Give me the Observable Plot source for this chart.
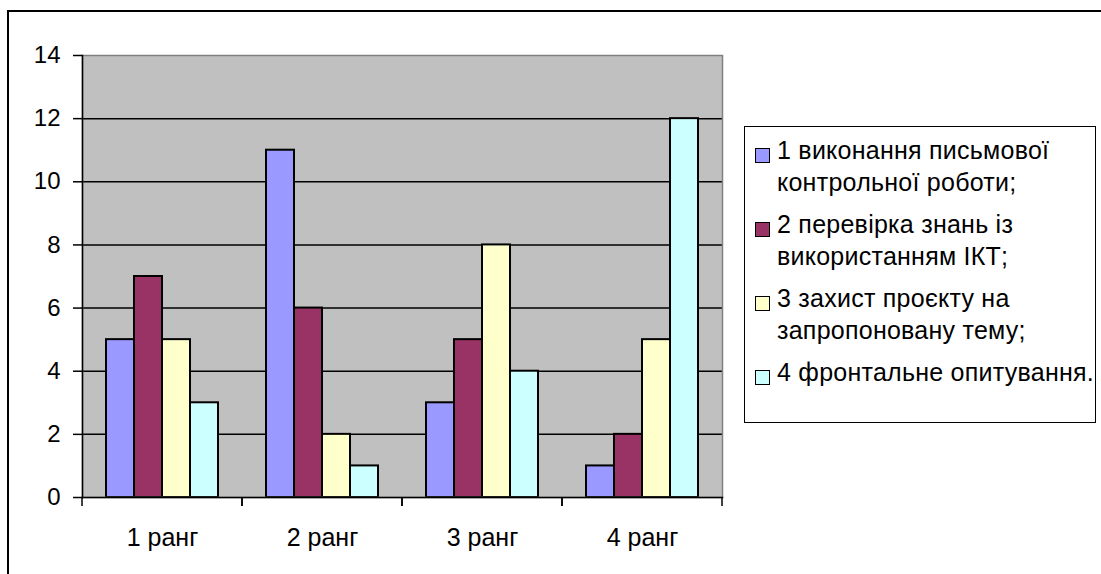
<!DOCTYPE html>
<html>
<head>
<meta charset="utf-8">
<script src="https://cdn.jsdelivr.net/npm/d3@7"></script>
<script src="https://cdn.jsdelivr.net/npm/@observablehq/plot@0.6"></script>
<style>
  html, body { margin: 0; padding: 0; background: #fff; overflow: hidden; }
  body { width: 1101px; height: 574px; position: relative; font-family: "Liberation Sans", Arial, sans-serif; }
  #outer { position: absolute; left: 7px; top: 10px; width: 2000px; height: 2000px; border-top: 2px solid #000; border-left: 2px solid #000; }
  #chart { position: absolute; left: 0; top: 0; }
  #legend { position: absolute; left: 744px; top: 126px; width: 352px; height: 297px; border: 1.5px solid #000; background: #fff; box-sizing: border-box; }
  .item { position: absolute; left: 32px; font-size: 25px; letter-spacing: 0.25px; line-height: 32px; color: #000; white-space: nowrap; }
  .sw { position: absolute; left: -22px; width: 15px; height: 15px; box-sizing: border-box; border: 1.5px solid #000; }
</style>
</head>
<body>
<div id="outer"></div>
<div id="chart"></div>
<div id="legend"></div>
<script>
const groups = ["1 ранг", "2 ранг", "3 ранг", "4 ранг"];
const seriesNames = [
  "1 виконання письмової контрольної роботи;",
  "2 перевірка знань із використанням ІКТ;",
  "3 захист проєкту на запропоновану тему;",
  "4 фронтальне опитування."
];
const legendLines = [
  ["1 виконання письмової", "контрольної роботи;"],
  ["2 перевірка знань із", "використанням ІКТ;"],
  ["3 захист проєкту на", "запропоновану тему;"],
  ["4 фронтальне опитування."]
];
const series1 = [5, 11, 3, 1];
const series2 = [7, 6, 5, 2];
const series3 = [5, 2, 8, 5];
const series4 = [3, 1, 4, 12];
const colors = ["#9999ff", "#993366", "#ffffcc", "#ccffff"];
const yTicks = [0, 2, 4, 6, 8, 10, 12, 14];
const gridValues = [2, 4, 6, 8, 10, 12];

const seriesValues = [series1, series2, series3, series4];
const data = [];
seriesNames.forEach((s, si) => {
  groups.forEach((g, gi) => data.push({group: g, series: s, value: seriesValues[si][gi]}));
});

function groupEdgeTicks(index, scales, values, dimensions) {
  const {width, height, marginLeft, marginRight, marginBottom} = dimensions;
  const y0 = height - marginBottom;
  const g = d3.create("svg:g").attr("stroke", "#000").attr("stroke-width", 1.5);
  for (const x of [marginLeft, width - marginRight]) {
    g.append("line").attr("x1", x).attr("x2", x).attr("y1", y0).attr("y2", y0 + 9);
  }
  return g.node();
}

const chart = Plot.plot({
  width: 1101,
  height: 574,
  marginLeft: 82,
  marginRight: 379,
  marginTop: 55,
  marginBottom: 77,
  style: {fontSize: "24px", fontFamily: "'Liberation Sans', Arial, sans-serif", color: "#000", background: "transparent", overflow: "visible"},
  fx: {domain: groups, padding: 0, label: null},
  x: {domain: seriesNames, paddingInner: 0, paddingOuter: 0.76, axis: null},
  y: {domain: [0, 14], label: null},
  color: {domain: seriesNames, range: colors},
  marks: [
    Plot.frame({fill: "#c0c0c0", facet: "super"}),
    Plot.ruleY(gridValues, {stroke: "#000", strokeWidth: 1.5}),
    Plot.barY(data, {fx: "group", x: "series", y: "value", fill: "series", stroke: "#000", strokeWidth: 2}),
    Plot.frame({stroke: "#808080", strokeWidth: 1.5, facet: "super"}),
    Plot.frame({anchor: "left", stroke: "#000", strokeWidth: 1.5, facet: "super"}),
    Plot.frame({anchor: "bottom", stroke: "#000", strokeWidth: 1.5, facet: "super"}),
    Plot.axisY({ticks: yTicks, tickSize: 9, tickPadding: 13, strokeWidth: 1.5, label: null}),
    Plot.axisFx({anchor: "bottom", tickSize: 0, tickPadding: 31, fontSize: 25, label: null}),
    groupEdgeTicks
  ]
});
document.getElementById("chart").appendChild(chart);

const legend = document.getElementById("legend");
const itemTops = [7, 81, 155, 229];
legendLines.forEach((lines, i) => {
  const item = document.createElement("div");
  item.className = "item";
  item.style.top = itemTops[i] + "px";
  const sw = document.createElement("div");
  sw.className = "sw";
  sw.style.background = colors[i];
  sw.style.top = "13.5px";
  item.appendChild(sw);
  lines.forEach(t => {
    const l = document.createElement("div");
    l.textContent = t;
    item.appendChild(l);
  });
  legend.appendChild(item);
});
</script>
</body>
</html>
